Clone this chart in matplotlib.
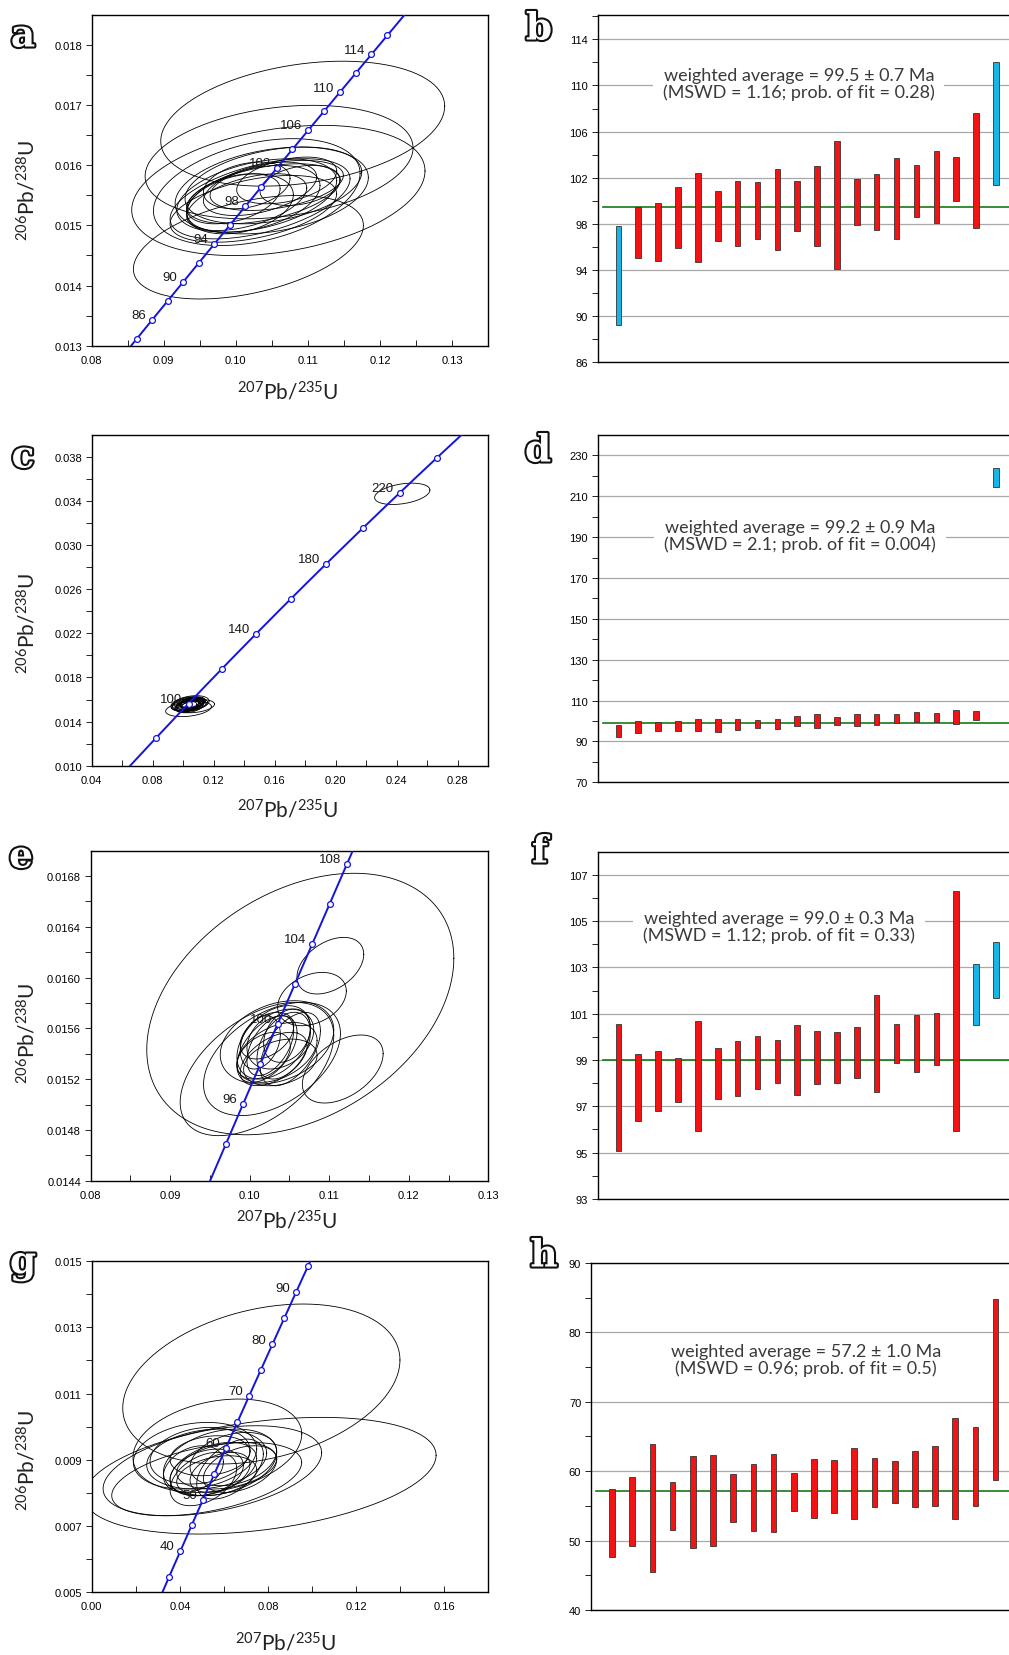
import matplotlib
matplotlib.use("Agg")
import matplotlib.pyplot as plt
import matplotlib.patheffects as pe
from matplotlib.ticker import FormatStrFormatter
import numpy as np

plt.rcParams['font.family'] = ['Liberation Sans', 'DejaVu Sans']
plt.rcParams['mathtext.fontset'] = 'custom'
plt.rcParams['mathtext.rm'] = 'Lato'
plt.rcParams['mathtext.it'] = 'Lato:italic'
plt.rcParams['mathtext.bf'] = 'Lato:bold'

# decay constants (1/yr), used to draw the concordia
L238 = 1.55125e-10
L235 = 9.8485e-10

# ---------------- panel a: error ellipses (2 sigma) ----------------
a_cx = [0.10928, 0.10600, 0.10590, 0.10174, 0.10290, 0.10498, 0.10521, 0.10290, 0.10243, 0.10382,
        0.10151, 0.10336, 0.10567, 0.10058, 0.10706, 0.09966, 0.10891, 0.10243, 0.10336, 0.10151]
a_cy = [0.016690, 0.016052, 0.015580, 0.014637, 0.015553, 0.015580, 0.015664, 0.015497, 0.015442, 0.015525,
        0.015386, 0.015608, 0.015664, 0.015358, 0.015747, 0.015442, 0.015664, 0.015275, 0.015442, 0.015664]
a_sx = [0.01970, 0.01859, 0.02035, 0.01596, 0.01434, 0.01341, 0.01226, 0.01110, 0.00925, 0.01064,
        0.00833, 0.00786, 0.00925, 0.00740, 0.00694, 0.00648, 0.00555, 0.01156, 0.01249, 0.00601]
a_sy = [0.001038, 0.000943, 0.001082, 0.000860, 0.000888, 0.000721, 0.000638, 0.000610, 0.000555, 0.000499,
        0.000472, 0.000444, 0.000416, 0.000499, 0.000388, 0.000416, 0.000333, 0.000555, 0.000666, 0.000388]
a_rho = [0.28, 0.25, 0.30, 0.42, 0.35, 0.30, 0.35, 0.40, 0.40, 0.45,
         0.50, 0.45, 0.40, 0.30, 0.40, 0.40, 0.30, 0.45, 0.50, 0.30]
a_marks = [84, 86, 88, 90, 92, 94, 96, 98, 100, 102, 104, 106, 108, 110, 112, 114, 116]
a_labels = [86, 90, 94, 98, 102, 106, 110, 114]
a_xticks = [0.08, 0.09, 0.10, 0.11, 0.12, 0.13]
a_yticks = [0.013, 0.014, 0.015, 0.016, 0.017, 0.018]

# ---------------- panel c ----------------
c_cx = [0.24372, 0.1035, 0.1080, 0.1050, 0.1030, 0.1045, 0.1060, 0.1025, 0.1040, 0.1055,
        0.1020, 0.1065, 0.1010, 0.1050, 0.1035, 0.1070, 0.1045, 0.1030, 0.1060, 0.1040]
c_cy = [0.034641, 0.01515, 0.01540, 0.01565, 0.01555, 0.01560, 0.01570, 0.01545, 0.01550, 0.01560,
        0.01535, 0.01575, 0.01550, 0.01545, 0.01570, 0.01560, 0.01530, 0.01560, 0.01550, 0.01565]
c_sx = [0.01814, 0.0150, 0.0125, 0.0120, 0.0100, 0.0090, 0.0085, 0.0080, 0.0075, 0.0070,
        0.0070, 0.0080, 0.0090, 0.0100, 0.0095, 0.0090, 0.0085, 0.0110, 0.0070, 0.0065]
c_sy = [0.000967, 0.00070, 0.00060, 0.00070, 0.00060, 0.00055, 0.00050, 0.00050, 0.00045, 0.00045,
        0.00050, 0.00050, 0.00055, 0.00055, 0.00050, 0.00050, 0.00050, 0.00065, 0.00045, 0.00040]
c_rho = [0.35, 0.3, 0.3, 0.3, 0.4, 0.4, 0.4, 0.4, 0.4, 0.3,
         0.4, 0.3, 0.3, 0.4, 0.3, 0.3, 0.4, 0.3, 0.4, 0.3]
c_marks = [80, 100, 120, 140, 160, 180, 200, 220, 240]
c_labels = [100, 140, 180, 220]
c_xticks = [0.04, 0.08, 0.12, 0.16, 0.20, 0.24, 0.28]
c_yticks = [0.010, 0.014, 0.018, 0.022, 0.026, 0.030, 0.034, 0.038]

# ---------------- panel e ----------------
e_cx = [0.10636, 0.11014, 0.10783, 0.11170, 0.10091, 0.10280, 0.10343,
        0.10301, 0.10217, 0.10385, 0.10343, 0.10259, 0.10427, 0.10175, 0.10469, 0.10301, 0.10511,
        0.10133, 0.10385, 0.10217]
e_cy = [0.015792, 0.016094, 0.015831, 0.015280, 0.015280, 0.015359, 0.015490,
        0.015490, 0.015437, 0.015516, 0.015411, 0.015464, 0.015464, 0.015385, 0.015543, 0.015359, 0.015437,
        0.015490, 0.015332, 0.015543]
e_sx = [0.01931, 0.00420, 0.00432, 0.00508, 0.00966, 0.00861, 0.00714,
        0.00462, 0.00378, 0.00420, 0.00504, 0.00294, 0.00336, 0.00336, 0.00294, 0.00420, 0.00378,
        0.00252, 0.00462, 0.00336]
e_sy = [0.001030, 0.000223, 0.000210, 0.000268, 0.000525, 0.000446, 0.000328,
        0.000289, 0.000263, 0.000236, 0.000236, 0.000236, 0.000263, 0.000184, 0.000210, 0.000210, 0.000289,
        0.000210, 0.000184, 0.000184]
e_rho = [0.35, 0.40, 0.30, 0.45, 0.50, 0.45, 0.30,
         0.4, 0.5, 0.3, 0.4, 0.5, 0.4, 0.4, 0.3, 0.5, 0.5,
         0.3, 0.3, 0.4]
e_marks = [94, 96, 98, 100, 102, 104, 106, 108]
e_labels = [96, 100, 104, 108]
e_xticks = [0.08, 0.09, 0.10, 0.11, 0.12, 0.13]
e_yticks = [0.0144, 0.0148, 0.0152, 0.0156, 0.0160, 0.0164, 0.0168]

# ---------------- panel g ----------------
g_cx = [0.07698, 0.07638, 0.05475, 0.05218, 0.05702, 0.04688,
        0.05218, 0.04915, 0.05823, 0.05520, 0.06125, 0.05218, 0.05823, 0.06428, 0.04613, 0.05672,
        0.06276, 0.05369, 0.06730, 0.05067]
g_cy = [0.011287, 0.008512, 0.008663, 0.008411, 0.009420, 0.009117,
        0.009016, 0.009117, 0.008915, 0.008713, 0.008814, 0.008612, 0.008612, 0.009016, 0.008713, 0.008512,
        0.008713, 0.009117, 0.008713, 0.008411]
g_sx = [0.0629, 0.0799, 0.0496, 0.0431, 0.0383, 0.0280,
        0.02722, 0.02269, 0.02571, 0.01966, 0.02269, 0.01664, 0.01361, 0.01966, 0.01361, 0.01815,
        0.01512, 0.01815, 0.01664, 0.01512]
g_sy = [0.002422, 0.001766, 0.001362, 0.001110, 0.001413, 0.001009,
        0.000908, 0.000858, 0.001009, 0.000807, 0.000706, 0.000706, 0.000605, 0.000807, 0.000706, 0.000605,
        0.000908, 0.000605, 0.000706, 0.000807]
g_rho = [0.30, 0.35, 0.40, 0.45, 0.25, 0.20,
         0.2, 0.2, 0.3, 0.4, 0.3, 0.3, 0.4, 0.3, 0.3, 0.3,
         0.5, 0.2, 0.4, 0.4]
g_marks = [35, 40, 45, 50, 55, 60, 65, 70, 75, 80, 85, 90, 95]
g_labels = [40, 50, 60, 70, 80, 90]
g_xticks = [0.00, 0.04, 0.08, 0.12, 0.16]
g_yticks = [0.005, 0.007, 0.009, 0.011, 0.013, 0.015]

# ---------------- bar panels: age ranges (Ma) ----------------
b_hi = [97.83, 99.45, 99.85, 101.21, 102.39, 100.87, 101.73, 101.62, 102.74, 101.70,
        103.00, 105.22, 101.85, 102.34, 103.75, 103.09, 104.36, 103.84, 107.65, 112.07]
b_lo = [89.26, 95.00, 94.74, 95.87, 94.66, 96.48, 96.04, 96.65, 95.70, 97.40,
        96.04, 94.11, 97.89, 97.49, 96.71, 98.56, 98.07, 100.00, 97.63, 101.38]
b_rejected = [0, 19]
b_mean = 99.5
b_text = "weighted average = 99.5 ± 0.7 Ma\n(MSWD = 1.16; prob. of fit = 0.28)"
b_yticks = [86, 90, 94, 98, 102, 106, 110, 114]

d_hi = [98.2, 100.1, 99.3, 100.1, 101.1, 101.1, 101.1, 100.6, 101.1, 102.6,
        103.6, 102.1, 103.6, 103.6, 103.6, 104.5, 104.1, 105.5, 105.0, 224.1]
d_lo = [92.3, 94.1, 94.9, 94.9, 94.9, 94.8, 95.6, 96.6, 96.1, 97.4,
        96.4, 98.0, 97.5, 98.0, 98.8, 99.3, 99.3, 98.5, 100.3, 214.5]
d_rejected = [19]
d_mean = 99.2
d_text = "weighted average = 99.2 ± 0.9 Ma\n(MSWD = 2.1; prob. of fit = 0.004)"
d_yticks = [70, 90, 110, 130, 150, 170, 190, 210, 230]

f_hi = [100.56, 99.26, 99.39, 99.09, 100.69, 99.51, 99.81, 100.05, 99.85, 100.51,
        100.27, 100.22, 100.43, 101.80, 100.56, 100.93, 101.03, 106.29, 103.14, 104.10]
f_lo = [95.05, 96.36, 96.82, 97.17, 95.94, 97.30, 97.43, 97.76, 98.00, 97.47,
        97.97, 98.02, 98.23, 97.64, 98.87, 98.48, 98.78, 95.94, 100.51, 101.69]
f_rejected = [18, 19]
f_mean = 99.0
f_text = "weighted average = 99.0 ± 0.3 Ma\n(MSWD = 1.12; prob. of fit = 0.33)"
f_yticks = [93, 95, 97, 99, 101, 103, 105, 107]

h_hi = [57.44, 59.16, 63.92, 58.40, 62.14, 62.38, 59.55, 61.09, 62.53, 59.69,
        61.71, 61.57, 63.39, 61.95, 61.42, 62.86, 63.68, 67.62, 66.32, 84.81]
h_lo = [47.59, 49.27, 45.48, 51.53, 48.98, 49.27, 52.63, 51.38, 51.24, 54.22,
        53.21, 53.93, 53.06, 54.79, 55.47, 54.79, 55.03, 53.06, 54.94, 58.73]
h_rejected = []
h_mean = 57.2
h_text = "weighted average = 57.2 ± 1.0 Ma\n(MSWD = 0.96; prob. of fit = 0.5)"
h_yticks = [40, 50, 60, 70, 80, 90]

BLUE = '#1414dc'
RED = '#f21414'
CYAN = '#17b4e8'
GREEN = '#157a15'
TEXT_GRAY = '#3a3a3a'
X_LABEL = r'$^{207}$Pb/$^{235}$U'
Y_LABEL = r'$^{206}$Pb/$^{238}$U'


def concordia(ages_ma):
    t = np.asarray(ages_ma, dtype=float) * 1e6
    return np.exp(L235 * t) - 1, np.exp(L238 * t) - 1


def ellipse_xy(cx, cy, sx, sy, rho, n=200):
    t = np.linspace(0, 2 * np.pi, n)
    x = cx + sx * np.cos(t)
    y = cy + sy * (rho * np.cos(t) + np.sqrt(1 - rho ** 2) * np.sin(t))
    return x, y


def minor_between(ticks, lim):
    # one minor tick halfway between majors (and beyond the ends, inside the limits)
    step = ticks[1] - ticks[0]
    cand = [t + step / 2 for t in ticks] + [ticks[0] - step / 2]
    return [c for c in cand if lim[0] < c < lim[1]]


def plot_concordia_panel(ax, cx, cy, sx, sy, rho, marks, labels, age_range,
                         xlim, ylim, xticks, yticks, xfmt, yfmt, ylab_pos, xlab_pos):
    for i in range(len(cx)):
        ex, ey = ellipse_xy(cx[i], cy[i], sx[i], sy[i], rho[i])
        ax.plot(ex, ey, color='black', lw=0.6, zorder=2)
    ages = np.linspace(age_range[0], age_range[1], 400)
    x, y = concordia(ages)
    ax.plot(x, y, color=BLUE, lw=1.4, zorder=3)
    mx, my = concordia(marks)
    ax.plot(mx, my, 'o', ms=4.2, mfc='white', mec=BLUE, mew=0.9, zorder=4)
    lx, ly = concordia(labels)
    for age, px, py in zip(labels, lx, ly):
        ax.annotate(str(age), (px, py), xytext=(-4.2, 3.5), textcoords='offset points',
                    ha='right', va='center', fontsize=9.5, color='#1a1a1a', zorder=5)

    ax.set_xlim(*xlim)
    ax.set_ylim(*ylim)
    ax.set_xticks(xticks)
    ax.set_xticks(minor_between(xticks, xlim), minor=True)
    ax.set_yticks(yticks)
    ax.set_yticks(minor_between(yticks, ylim), minor=True)
    ax.xaxis.set_major_formatter(FormatStrFormatter(xfmt))
    ax.yaxis.set_major_formatter(FormatStrFormatter(yfmt))
    ax.tick_params(axis='x', which='both', direction='in', length=4, width=0.6, labelsize=8, pad=7)
    ax.tick_params(axis='y', which='both', direction='out', length=4, width=0.6, labelsize=8, pad=3)
    for s in ax.spines.values():
        s.set_linewidth(1.0)
    ax.text(ylab_pos[0], ylab_pos[1], Y_LABEL, rotation=90, ha='center', va='center',
            fontsize=15, family='Lato', color='#222222', transform=ax.transAxes)
    ax.text(xlab_pos[0], xlab_pos[1], X_LABEL, ha='center', va='center',
            fontsize=15, family='Lato', color='#222222', transform=ax.transAxes)


def plot_bar_panel(ax, lo, hi, rejected, mean, text, ylim, yticks, text_pos, boxed=True):
    pos = np.arange(1, len(lo) + 1)
    colors = [CYAN if i in rejected else RED for i in range(len(lo))]
    ax.bar(pos, np.array(hi) - np.array(lo), bottom=lo, width=0.28, color=colors,
           edgecolor='#333333', lw=0.6, zorder=3)
    ax.axhline(mean, xmin=0.012, color=GREEN, lw=1.2, zorder=2)
    ax.set_xlim(-0.04, 20.66)
    ax.set_ylim(*ylim)
    ax.set_yticks(yticks)
    ax.set_yticks(minor_between(yticks, ylim), minor=True)
    ax.yaxis.set_major_formatter(FormatStrFormatter('%d'))
    ax.set_xticks([])
    ax.spines['right'].set_visible(False)
    for s in ['left', 'top', 'bottom']:
        ax.spines[s].set_linewidth(1.0)
    ax.grid(axis='y', which='major', color='#a8a8a8', lw=0.9, zorder=1)
    ax.set_axisbelow(True)
    ax.tick_params(axis='y', which='both', direction='out', length=4, width=0.6, labelsize=8, pad=3)
    bbox = dict(facecolor='white', edgecolor='none', pad=7) if boxed else None
    ax.text(text_pos[0], text_pos[1], text, ha='center', va='center', fontsize=13,
            family='Lato', color=TEXT_GRAY, linespacing=1.0, bbox=bbox,
            transform=ax.transAxes, zorder=4)


fig = plt.figure(figsize=(10.09, 16.56), dpi=100)
fig.patch.set_facecolor('white')

ax_a = fig.add_axes([0.0909, 0.7906, 0.3928, 0.1999])
ax_c = fig.add_axes([0.0909, 0.5370, 0.3928, 0.1999])
ax_e = fig.add_axes([0.0899, 0.2864, 0.3940, 0.1993])
ax_g = fig.add_axes([0.0909, 0.0382, 0.3931, 0.1995])
ax_b = fig.add_axes([0.5924, 0.7806, 0.4076, 0.2097])
ax_d = fig.add_axes([0.5924, 0.5270, 0.4076, 0.2097])
ax_f = fig.add_axes([0.5924, 0.2754, 0.4076, 0.2097])
ax_h = fig.add_axes([0.5857, 0.0272, 0.4143, 0.2095])

plot_concordia_panel(ax_a, a_cx, a_cy, a_sx, a_sy, a_rho, a_marks, a_labels, (80, 122),
                     (0.08, 0.135), (0.013, 0.0185), a_xticks, a_yticks, '%.2f', '%.3f',
                     (-0.163, 0.473), (0.495, -0.137))
plot_concordia_panel(ax_c, c_cx, c_cy, c_sx, c_sy, c_rho, c_marks, c_labels, (50, 280),
                     (0.04, 0.30), (0.010, 0.040), c_xticks, c_yticks, '%.2f', '%.3f',
                     (-0.163, 0.434), (0.495, -0.131))
plot_concordia_panel(ax_e, e_cx, e_cy, e_sx, e_sy, e_rho, e_marks, e_labels, (90, 112),
                     (0.08, 0.13), (0.0144, 0.0170), e_xticks, e_yticks, '%.2f', '%.4f',
                     (-0.160, 0.45), (0.494, -0.121))
plot_concordia_panel(ax_g, g_cx, g_cy, g_sx, g_sy, g_rho, g_marks, g_labels, (25, 100),
                     (0.0, 0.18), (0.005, 0.015), g_xticks, g_yticks, '%.2f', '%.3f',
                     (-0.163, 0.40), (0.49, -0.152))

plot_bar_panel(ax_b, b_lo, b_hi, b_rejected, b_mean, b_text, (86, 116.1), b_yticks, (0.489, 0.803))
plot_bar_panel(ax_d, d_lo, d_hi, d_rejected, d_mean, d_text, (70, 240), d_yticks, (0.492, 0.711))
plot_bar_panel(ax_f, f_lo, f_hi, f_rejected, f_mean, f_text, (93, 108), f_yticks, (0.441, 0.784))
plot_bar_panel(ax_h, h_lo, h_hi, h_rejected, h_mean, h_text, (40, 90), h_yticks, (0.514, 0.722), boxed=False)

# panel letters
letters = ['a', 'b', 'c', 'd', 'e', 'f', 'g', 'h']
letter_px = [(23, 37), (539, 30), (23, 458), (538, 452), (21, 858), (540, 853), (23, 1264), (544, 1257)]
for lab, (px, py) in zip(letters, letter_px):
    fig.text(px / 1009, 1 - py / 1656, lab, ha='center', va='center', fontsize=27,
             family='DejaVu Serif', weight='bold', color='white',
             path_effects=[pe.withStroke(linewidth=3, foreground='#111111')])

fig.savefig('out.png', dpi=100, facecolor='white')
